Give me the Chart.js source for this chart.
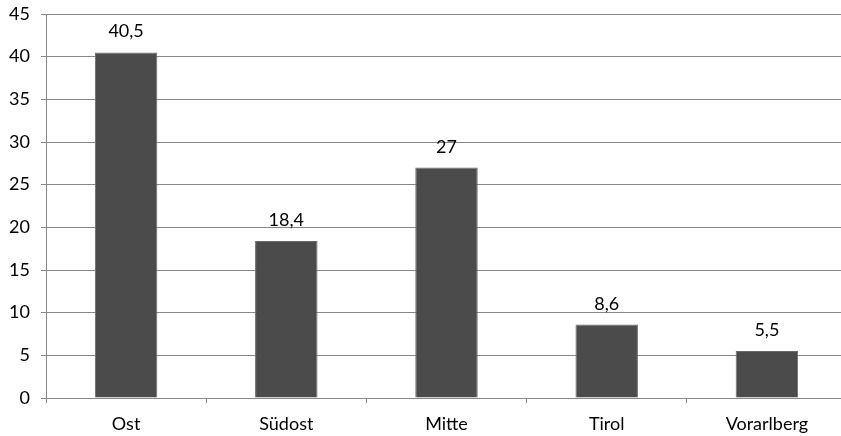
<!DOCTYPE html>
<html>
<head>
<meta charset="utf-8">
<script src="https://cdn.jsdelivr.net/npm/chart.js@4.4.1/dist/chart.umd.min.js"></script>
<style>
	html, body { margin: 0; padding: 0; background: #fff; overflow: hidden; }
	#wrap { width: 847px; height: 436px; position: relative; }
</style>
</head>
<body>
<div id="wrap"><canvas id="chart"></canvas></div>
<script>
var regions = ['Ost', 'Südost', 'Mitte', 'Tirol', 'Vorarlberg'];
var values = [40.5, 18.4, 27, 8.6, 5.5];
var valueLabels = ['40,5', '18,4', '27', '8,6', '5,5'];

var gridColor = '#878787';
var fontFamily = 'Lato, "Open Sans", sans-serif';
var fontSize = 18;

// draw the value above each bar
var barLabels = {
	id: 'barLabels',
	afterDatasetsDraw: function(chart) {
		var ctx = chart.ctx;
		var meta = chart.getDatasetMeta(0);
		ctx.save();
		ctx.fillStyle = '#000';
		ctx.font = fontSize + 'px ' + fontFamily;
		ctx.textAlign = 'center';
		ctx.textBaseline = 'alphabetic';
		meta.data.forEach(function(bar, i) {
			ctx.fillText(valueLabels[i], bar.x, bar.y - 15);
		});
		ctx.restore();
	}
};

new Chart(document.getElementById('chart').getContext('2d'), {
	type: 'bar',
	data: {
		labels: regions,
		datasets: [{
			data: values,
			backgroundColor: '#4b4b4b',
			borderColor: '#6a6a6a',
			borderWidth: 1,
			categoryPercentage: 1,
			barPercentage: 0.39
		}]
	},
	options: {
		responsive: true,
		maintainAspectRatio: false,
		animation: false,
		layout: { padding: { top: 14, right: 0, left: 0, bottom: 0 } },
		plugins: {
			legend: { display: false },
			tooltip: { enabled: false }
		},
		scales: {
			x: {
				grid: {
					offset: true,
					drawOnChartArea: false,
					drawTicks: true,
					tickLength: 5,
					color: gridColor
				},
				border: { color: gridColor },
				ticks: {
					color: '#000',
					font: { family: fontFamily, size: fontSize },
					padding: 10,
					maxRotation: 0
				},
				afterFit: function(scale) {
					scale.height = 38;
					scale.paddingLeft = 0;
					scale.paddingRight = 0;
				}
			},
			y: {
				min: 0,
				max: 45,
				ticks: {
					stepSize: 5,
					color: '#000',
					font: { family: fontFamily, size: fontSize },
					padding: 11
				},
				grid: {
					color: gridColor,
					tickLength: 5
				},
				border: { color: gridColor },
				afterFit: function(scale) {
					scale.width = 46;
					scale.paddingTop = 0;
					scale.paddingBottom = 0;
				}
			}
		}
	},
	plugins: [barLabels]
});
</script>
</body>
</html>
